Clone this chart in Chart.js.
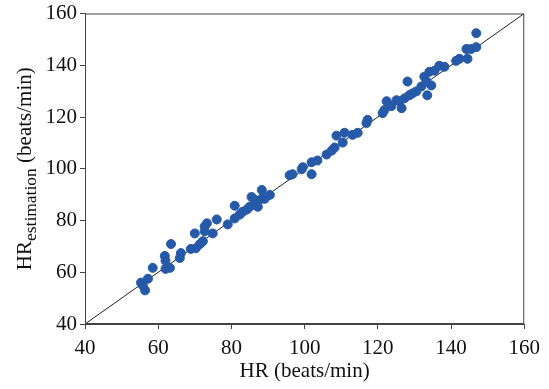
<!DOCTYPE html>
<html>
<head>
<meta charset="utf-8">
<script src="https://cdn.jsdelivr.net/npm/chart.js@4.4.1/dist/chart.umd.min.js"></script>
<style>
  html, body { margin: 0; padding: 0; background: #fff; }
  #wrap { width: 549px; height: 389px; }
</style>
</head>
<body>
<div id="wrap"><canvas id="scatter"></canvas></div>
<script>
// reference HR vs estimated HR (beats/min)
const hrRef = [
  55.3, 56.4, 55.8, 57.2, 58.5, 61.8, 62.0, 62.0, 63.2, 63.5, 66.2, 65.9, 68.9, 70.0, 70.3, 71.4, 72.7, 72.2,
  72.7, 73.3, 74.9, 76.0, 79.0, 80.9, 80.9, 82.3, 83.1, 84.2, 85.0, 85.5, 86.4, 87.2, 88.3, 88.3, 89.1, 90.5,
  95.9, 96.7, 99.2, 99.5, 101.9, 101.9, 103.5, 106.0, 107.4, 108.2, 108.7, 110.4, 110.9, 113.1, 114.5,
  116.9, 117.2, 121.3, 121.8, 122.4, 123.7, 125.1, 125.9, 126.5, 127.3, 128.1, 128.6, 129.4, 130.5, 131.9,
  132.7, 133.3, 133.5, 134.1, 134.6, 135.5, 136.8, 138.2, 141.4, 142.3, 144.5, 144.2, 145.5, 146.9, 146.9
];
const hrEst = [
  56.0, 53.0, 54.9, 57.5, 61.7, 66.3, 64.4, 61.3, 61.7, 70.9, 67.4, 65.5, 69.0, 75.0, 69.3, 70.9, 75.8, 72.0,
  77.7, 78.9, 75.0, 80.4, 78.5, 80.8, 85.7, 82.3, 83.4, 84.2, 85.3, 89.1, 88.0, 85.3, 91.8, 88.4, 88.4, 89.9,
  97.5, 97.9, 99.8, 100.6, 97.9, 102.5, 103.2, 105.5, 107.0, 108.2, 112.8, 110.1, 113.9, 113.1, 113.9,
  117.7, 118.9, 121.5, 122.7, 126.1, 124.2, 126.5, 126.1, 123.4, 127.2, 133.7, 128.4, 129.1, 129.9, 131.8,
  135.6, 133.7, 128.4, 137.5, 132.2, 137.9, 139.8, 139.4, 141.7, 142.5, 142.5, 146.3, 146.3, 147.0, 152.4
];
// identity line end points
const idLine = [40, 160];
const axisTicks = [40, 60, 80, 100, 120, 140, 160];

const serif = "'Liberation Serif', 'DejaVu Serif', serif";

// frame box + axis titles (y title has a subscript)
const extras = {
  id: "extras",
  afterDatasetsDraw(chart) {
    const { ctx, chartArea: a } = chart;
    ctx.save();
    ctx.strokeStyle = "#444";
    ctx.lineWidth = 1;
    ctx.strokeRect(a.left + 0.5, a.top + 0.5, a.right - a.left - 1, a.bottom - a.top - 1);
    ctx.restore();
  },
  afterDraw(chart) {
    const { ctx, chartArea: a } = chart;
    const big = "21px " + serif, small = "17.5px " + serif;
    ctx.save();
    ctx.fillStyle = "#111";
    ctx.textBaseline = "middle";
    ctx.font = big;
    ctx.textAlign = "center";
    ctx.fillText("HR (beats/min)", (a.left + a.right) / 2, 371);
    ctx.textAlign = "left";
    ctx.translate(25, (a.top + a.bottom) / 2);
    ctx.rotate(-Math.PI / 2);
    ctx.font = big; const w1 = ctx.measureText("HR").width;
    ctx.font = small; const w2 = ctx.measureText("estimation").width;
    ctx.font = big; const w3 = ctx.measureText(" (beats/min)").width;
    let x = -(w1 + w2 + w3) / 2;
    ctx.font = big; ctx.fillText("HR", x, 0); x += w1;
    ctx.font = small; ctx.fillText("estimation", x, 6); x += w2;
    ctx.font = big; ctx.fillText(" (beats/min)", x, 0);
    ctx.restore();
  }
};

const ctx = document.getElementById("scatter");
new Chart(ctx, {
  type: "scatter",
  data: {
    datasets: [
      {
        data: hrRef.map((v, i) => ({ x: v, y: hrEst[i] })),
        backgroundColor: "rgb(38, 89, 168)",
        borderColor: "rgb(38, 89, 168)",
        pointRadius: 4.5,
        pointHoverRadius: 4.5,
        order: 1,
      },
      {
        type: "line",
        data: idLine.map(v => ({ x: v, y: v })),
        borderColor: "#222",
        borderWidth: 1,
        pointRadius: 0,
        fill: false,
        order: 2,
      },
    ],
  },
  options: {
    responsive: true,
    maintainAspectRatio: false,
    animation: false,
    layout: { padding: { top: 9, right: 24, left: 0, bottom: 0 } },
    plugins: {
      legend: { display: false },
      tooltip: { enabled: false },
    },
    scales: {
      x: {
        type: "linear",
        min: 40,
        max: 160,
        afterBuildTicks: s => { s.ticks = axisTicks.map(v => ({ value: v })); },
        afterFit: s => { s.height = 65; },
        grid: { display: true, drawOnChartArea: false, drawTicks: true, tickLength: 5, color: "#444" },
        border: { display: true, color: "#444" },
        ticks: { color: "#111", font: { family: serif, size: 21, lineHeight: 1 }, padding: 9, maxRotation: 0 },
      },
      y: {
        type: "linear",
        min: 40,
        max: 160,
        afterBuildTicks: s => { s.ticks = axisTicks.map(v => ({ value: v })); },
        afterFit: s => { s.width = 85; },
        grid: { display: true, drawOnChartArea: false, drawTicks: true, tickLength: 5, color: "#444" },
        border: { display: true, color: "#444" },
        ticks: { color: "#111", font: { family: serif, size: 21, lineHeight: 1 }, padding: 3 },
      },
    },
  },
  plugins: [extras],
});
</script>
</body>
</html>
